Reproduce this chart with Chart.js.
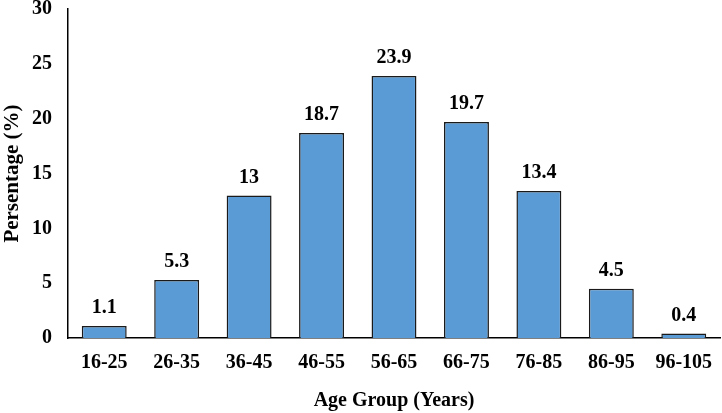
<!DOCTYPE html>
<html lang="en">
<head>
    <script src="https://cdn.jsdelivr.net/npm/chart.js"></script>
    <meta charset="UTF-8">
    <title>Age Group</title>
    <style>
        body { margin: 0; background: #fff; }
        .chart-container { width: 722px; height: 413px; }
    </style>
</head>
<body>
    <div class="chart-container">
        <canvas id="myChart"></canvas>
    </div>

    <script>
        const ageGroups = ['16-25', '26-35', '36-45', '46-55', '56-65', '66-75', '76-85', '86-95', '96-105'];
        const percentages = [1.1, 5.3, 13, 18.7, 23.9, 19.7, 13.4, 4.5, 0.4];
        const yTicks = [0, 5, 10, 15, 20, 25, 30];

        const fontFamily = '"Liberation Serif", "Times New Roman", serif';

        // draws the value above each bar
        const valueLabels = {
            id: 'valueLabels',
            afterDatasetsDraw(chart) {
                const ctx = chart.ctx;
                const meta = chart.getDatasetMeta(0);
                ctx.save();
                ctx.font = 'bold 20px ' + fontFamily;
                ctx.fillStyle = '#000';
                ctx.textAlign = 'center';
                ctx.textBaseline = 'bottom';
                meta.data.forEach((bar, i) => {
                    ctx.fillText(String(percentages[i]), bar.x, bar.y - 8);
                });
                ctx.restore();
            }
        };

        const ctx = document.getElementById('myChart').getContext('2d');
        new Chart(ctx, {
            type: 'bar',
            data: {
                labels: ageGroups,
                datasets: [{
                    data: percentages,
                    backgroundColor: '#5B9BD5',
                    borderColor: '#1a1a1a',
                    borderWidth: 1.5,
                    categoryPercentage: 1,
                    barPercentage: 0.62
                }]
            },
            options: {
                responsive: true,
                maintainAspectRatio: false,
                animation: false,
                layout: { padding: { top: 9, right: 2, left: 0, bottom: 0 } },
                plugins: {
                    legend: { display: false },
                    tooltip: { enabled: false }
                },
                scales: {
                    x: {
                        grid: { display: false, drawTicks: false },
                        border: { color: '#000', width: 1.5 },
                        ticks: {
                            color: '#000',
                            padding: 13,
                            font: { family: fontFamily, size: 20, weight: 'bold' }
                        },
                        title: {
                            display: true,
                            text: 'Age Group (Years)',
                            color: '#000',
                            padding: { top: 10, bottom: 0 },
                            font: { family: fontFamily, size: 20, weight: 'bold' }
                        },
                        afterFit(scale) {
                            scale.height = 75;
                            scale.paddingLeft = 0;
                            scale.paddingRight = 0;
                        }
                    },
                    y: {
                        min: 0,
                        max: 30,
                        afterBuildTicks(scale) { scale.ticks = yTicks.map(v => ({ value: v })); },
                        grid: { display: false, drawTicks: false },
                        border: { color: '#000', width: 1.5 },
                        ticks: {
                            color: '#000',
                            padding: 16,
                            font: { family: fontFamily, size: 20, weight: 'bold' }
                        },
                        title: {
                            display: true,
                            text: 'Persentage (%)',
                            color: '#000',
                            padding: { top: 0, bottom: 4 },
                            font: { family: fontFamily, size: 21, weight: 'bold' }
                        },
                        afterFit(scale) {
                            scale.width = 68;
                            scale.paddingTop = 0;
                            scale.paddingBottom = 0;
                        }
                    }
                }
            },
            plugins: [valueLabels]
        });
    </script>
</body>
</html>
